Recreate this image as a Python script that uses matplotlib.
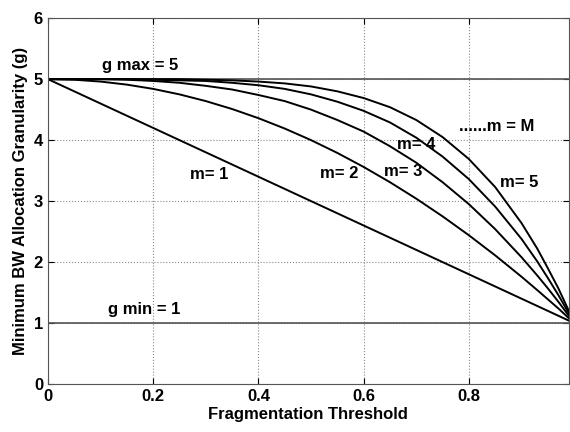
import matplotlib.pyplot as plt

# values
thresholds = [0, 0.05, 0.1, 0.15, 0.2, 0.25, 0.3, 0.35, 0.4, 0.45, 0.5, 0.55,
              0.6, 0.65, 0.7, 0.75, 0.8, 0.85, 0.9, 0.93, 0.95, 0.97, 0.99]
g_m1 = [5, 4.8, 4.6, 4.4, 4.2, 4.0, 3.8, 3.6, 3.4, 3.2, 3.0, 2.8,
        2.6, 2.4, 2.2, 2.0, 1.8, 1.6, 1.4, 1.28, 1.2, 1.12, 1.04]
g_m2 = [5, 4.99, 4.96, 4.91, 4.84, 4.75, 4.64, 4.51, 4.36, 4.19, 4.0, 3.79,
        3.56, 3.31, 3.04, 2.75, 2.44, 2.11, 1.76, 1.54, 1.39, 1.24, 1.08]
g_m3 = [5, 5.0, 5.0, 4.99, 4.97, 4.94, 4.89, 4.83, 4.74, 4.64, 4.5, 4.33,
        4.14, 3.9, 3.63, 3.31, 2.95, 2.54, 2.08, 1.78, 1.57, 1.35, 1.12]
g_m4 = [5, 5, 5.0, 5.0, 4.99, 4.98, 4.97, 4.94, 4.9, 4.84, 4.75, 4.63,
        4.48, 4.29, 4.04, 3.73, 3.36, 2.91, 2.38, 2.01, 1.74, 1.46, 1.16]
g_m5 = [5, 5, 5, 5.0, 5.0, 5.0, 4.99, 4.98, 4.96, 4.93, 4.88, 4.8,
        4.69, 4.54, 4.33, 4.05, 3.69, 3.23, 2.64, 2.22, 1.9, 1.57, 1.2]
g_max = 5
g_min = 1

plt.rcParams['font.family'] = ['Liberation Sans', 'DejaVu Sans']
plt.rcParams['font.weight'] = 'bold'

fig = plt.figure(figsize=(5.7, 4.32), dpi=100)
ax = fig.add_axes([0.084, 0.111, 0.914, 0.847])

ax.axhline(g_max, color='#555555', lw=1.2)
ax.axhline(g_min, color='#555555', lw=1.2)
for g in [g_m1, g_m2, g_m3, g_m4, g_m5]:
    ax.plot(thresholds, g, color='black', lw=1.4)

txt = dict(fontsize=12, fontweight='bold', va='center')
ax.text(0.103, 5.23, 'g max = 5', **txt)
ax.text(0.114, 1.23, 'g min = 1', **txt)
ax.text(0.27, 3.43, 'm= 1', **txt)
ax.text(0.518, 3.46, 'm= 2', **txt)
ax.text(0.638, 3.48, 'm= 3', **txt)
ax.text(0.663, 3.93, 'm= 4', **txt)
ax.text(0.781, 4.23, '......m = M', **txt)
ax.text(0.859, 3.31, 'm= 5', **txt)

ax.set_xlim(0, 0.99)
ax.set_ylim(0, 6)
ax.set_xticks([0, 0.2, 0.4, 0.6, 0.8])
ax.set_xticklabels(['0', '0.2', '0.4', '0.6', '0.8'])
ax.set_yticks(range(0, 7))
ax.tick_params(direction='in', top=True, right=True, labelsize=12, length=4)
ax.grid(True, linestyle=':', color='#888888', lw=0.8)
ax.set_xlabel('Fragmentation Threshold', fontsize=12, fontweight='bold', labelpad=2)
ax.set_ylabel('Minimum BW Allocation Granularity (g)', fontsize=12, fontweight='bold', labelpad=4)
for s in ax.spines.values():
    s.set_color('#555555')

fig.savefig('out.png', dpi=100)
